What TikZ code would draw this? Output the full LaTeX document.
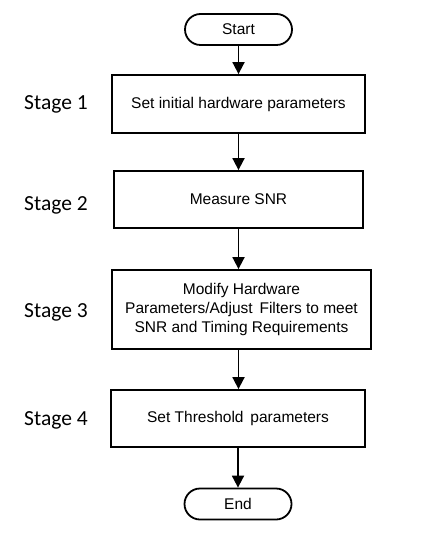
\documentclass[tikz,border=0pt]{standalone}
\usepackage{fontspec}
\setmainfont{Liberation Sans}
\newfontfamily\stagefont{Carlito}
\usetikzlibrary{arrows.meta}
\begin{document}
\begin{tikzpicture}[x=1pt,y=-1pt,
  box/.style={draw=black, line width=1.8pt, rectangle, inner sep=0pt, align=center,
    font=\fontsize{15.5}{19}\selectfont},
  term/.style={draw=black, line width=1.8pt, rectangle, rounded corners=15.5pt, inner sep=0pt,
    minimum width=107pt, minimum height=31pt, font=\fontsize{15.5}{19}\selectfont},
  stagelbl/.style={font=\stagefont\fontsize{21.5}{24}\selectfont, inner sep=0pt},
  flow/.style={line width=1.8pt, -{Triangle[length=12pt,width=12pt]}}]
\useasboundingbox (0,0) rectangle (422,534);
\node[term] (start) at (238.5,29.5) {Start};
\node[box, minimum width=253pt, minimum height=58pt] (b1) at (238.5,104) {Set initial hardware parameters};
\node[box, minimum width=249pt, minimum height=57pt] (b2) at (238.5,199.5) {\raisebox{-2pt}{Measure SNR}};
\node[box, minimum width=259pt, minimum height=79pt] (b3) at (241.5,309.5) {Modify Hardware\\Parameters/Adjust\, Filters to meet\\SNR and Timing Requirements};
\node[box, minimum width=254pt, minimum height=57pt] (b4) at (238,418.5) {Set Threshold\, parameters};
\node[term] (end) at (238,504) {End};
\node[stagelbl] (s1) at (56,104) {Stage 1};
\node[stagelbl] (s2) at (56,205) {Stage 2};
\node[stagelbl] (s3) at (56,312) {Stage 3};
\node[stagelbl] (s4) at (56,420) {Stage 4};
\draw[flow] (start.south) -- (start.south |- b1.north);
\draw[flow] (b1.south) -- (b1.south |- b2.north);
\draw[flow] (b2.south) -- (b2.south |- b3.north);
\draw[flow] (b2.south |- b3.south) -- (b2.south |- b4.north);
\draw[flow] (b4.south) -- (end.north);
\end{tikzpicture}
\end{document}
